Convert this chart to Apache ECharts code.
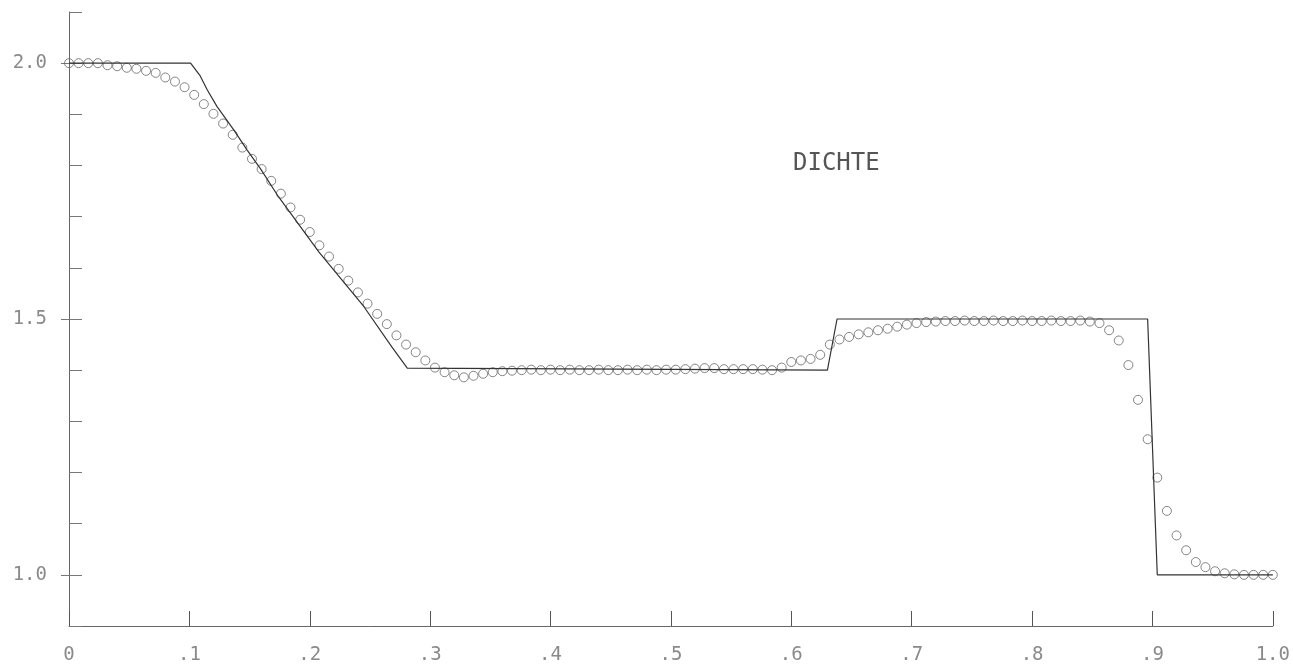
<!DOCTYPE html>
<html>
<head>
<meta charset="utf-8">
<title>DICHTE</title>
<script src="https://cdn.jsdelivr.net/npm/echarts@6/dist/echarts.min.js"></script>
<style>
  html, body { margin: 0; padding: 0; background: #fff; }
  #chart { width: 1293px; height: 670px; }
</style>
</head>
<body>
<div id="chart"></div>
<script>
// exakte loesung (linie)
var exactX = [0, 0.101, 0.109, 0.115, 0.123, 0.137, 0.148, 0.159, 0.174, 0.2075, 0.245, 0.268, 0.281, 0.630, 0.638, 0.896, 0.904, 1.0];
var exactRho = [2.0, 2.0, 1.975, 1.947, 1.915, 1.869, 1.830, 1.794, 1.739, 1.631, 1.524, 1.446, 1.404, 1.400, 1.500, 1.500, 1.000, 1.000];

// numerische loesung (kreise)
var cellX = [
  0, 0.008, 0.016, 0.024, 0.032, 0.04, 0.048, 0.056, 0.064, 0.072,
  0.08, 0.088, 0.096, 0.104, 0.112, 0.12, 0.128, 0.136, 0.144, 0.152,
  0.16, 0.168, 0.176, 0.184, 0.192, 0.2, 0.208, 0.216, 0.224, 0.232,
  0.24, 0.248, 0.256, 0.264, 0.272, 0.28, 0.288, 0.296, 0.304, 0.312,
  0.32, 0.328, 0.336, 0.344, 0.352, 0.36, 0.368, 0.376, 0.384, 0.392,
  0.4, 0.408, 0.416, 0.424, 0.432, 0.44, 0.448, 0.456, 0.464, 0.472,
  0.48, 0.488, 0.496, 0.504, 0.512, 0.52, 0.528, 0.536, 0.544, 0.552,
  0.56, 0.568, 0.576, 0.584, 0.592, 0.6, 0.608, 0.616, 0.624, 0.632,
  0.64, 0.648, 0.656, 0.664, 0.672, 0.68, 0.688, 0.696, 0.704, 0.712,
  0.72, 0.728, 0.736, 0.744, 0.752, 0.76, 0.768, 0.776, 0.784, 0.792,
  0.8, 0.808, 0.816, 0.824, 0.832, 0.84, 0.848, 0.856, 0.864, 0.872,
  0.88, 0.888, 0.896, 0.904, 0.912, 0.92, 0.928, 0.936, 0.944, 0.952,
  0.96, 0.968, 0.976, 0.984, 0.992, 1.0
];
var cellRho = [
  2.000, 2.000, 2.000, 2.000, 1.996, 1.994, 1.991, 1.989, 1.985, 1.981,
  1.972, 1.964, 1.953, 1.938, 1.920, 1.901, 1.882, 1.860, 1.835, 1.813,
  1.793, 1.770, 1.745, 1.718, 1.694, 1.670, 1.644, 1.622, 1.598, 1.575,
  1.552, 1.530, 1.510, 1.490, 1.468, 1.450, 1.435, 1.419, 1.405, 1.396,
  1.390, 1.386, 1.389, 1.393, 1.396, 1.398, 1.399, 1.400, 1.401, 1.400,
  1.401, 1.400, 1.401, 1.400, 1.400, 1.401, 1.400, 1.400, 1.401, 1.400,
  1.401, 1.400, 1.401, 1.401, 1.402, 1.403, 1.404, 1.404, 1.402, 1.402,
  1.402, 1.402, 1.401, 1.400, 1.405, 1.416, 1.419, 1.422, 1.430, 1.450,
  1.460, 1.465, 1.470, 1.474, 1.478, 1.481, 1.485, 1.489, 1.492, 1.494,
  1.495, 1.496, 1.496, 1.497, 1.496, 1.496, 1.497, 1.496, 1.496, 1.497,
  1.496, 1.496, 1.497, 1.496, 1.496, 1.497, 1.495, 1.492, 1.478, 1.458,
  1.410, 1.342, 1.265, 1.190, 1.125, 1.077, 1.048, 1.025, 1.015, 1.007,
  1.003, 1.001, 1.000, 1.000, 1.000, 1.000
];

var yLabelTicks = [1.0, 1.5, 2.0];
var title = 'DICHTE';

var chart = echarts.init(document.getElementById('chart'));

function pairs(xs, ys) {
  var out = [];
  for (var i = 0; i < xs.length; i++) out.push([xs[i], ys[i]]);
  return out;
}

var labelFont = {
  color: '#8a8a8a',
  fontFamily: 'DejaVu Sans Mono',
  fontSize: 19
};

var option = {
  animation: false,
  backgroundColor: '#fff',
  grid: { left: 69, right: 19, top: 12, bottom: 44 },
  xAxis: {
    type: 'value',
    min: 0,
    max: 1,
    interval: 0.1,
    splitLine: { show: false },
    axisLine: { lineStyle: { color: '#666', width: 1 } },
    axisTick: { inside: true, length: 15, lineStyle: { color: '#555' } },
    axisLabel: Object.assign({
      margin: 20,
      formatter: function (v) {
        if (v < 0.001) return '0';
        if (v > 0.999) return '1.0';
        return '.' + Math.round(v * 10);
      }
    }, labelFont)
  },
  yAxis: [{
    type: 'value',
    min: 0.9,
    max: 2.1,
    interval: 0.1,
    splitLine: { show: false },
    axisLine: { show: true, lineStyle: { color: '#666', width: 1 } },
    axisTick: { inside: true, length: 13, lineStyle: { color: '#777' } },
    axisLabel: Object.assign({
      margin: 22,
      formatter: function (v) {
        for (var i = 0; i < yLabelTicks.length; i++) {
          if (Math.abs(v - yLabelTicks[i]) < 1e-6) return yLabelTicks[i].toFixed(1);
        }
        return '';
      }
    }, labelFont)
  }, {
    type: 'value',
    position: 'left',
    min: 0.9,
    max: 2.1,
    splitLine: { show: false },
    axisLine: { show: false },
    axisTick: { show: true, inside: false, length: 8, customValues: yLabelTicks, lineStyle: { color: '#777' } },
    axisLabel: { show: false }
  }],
  graphic: [{
    type: 'text',
    left: 793,
    top: 152,
    style: {
      text: title,
      fill: '#555',
      font: '24px "DejaVu Sans Mono"'
    }
  }],
  series: [{
    name: 'numerisch',
    type: 'scatter',
    symbol: 'circle',
    symbolSize: 9,
    itemStyle: { color: 'rgba(0,0,0,0)', borderColor: '#666', borderWidth: 1 },
    data: pairs(cellX, cellRho),
    z: 2
  }, {
    name: 'exakt',
    type: 'line',
    showSymbol: false,
    lineStyle: { color: '#333', width: 1.2 },
    data: pairs(exactX, exactRho),
    z: 3
  }]
};

chart.setOption(option);
</script>
</body>
</html>
